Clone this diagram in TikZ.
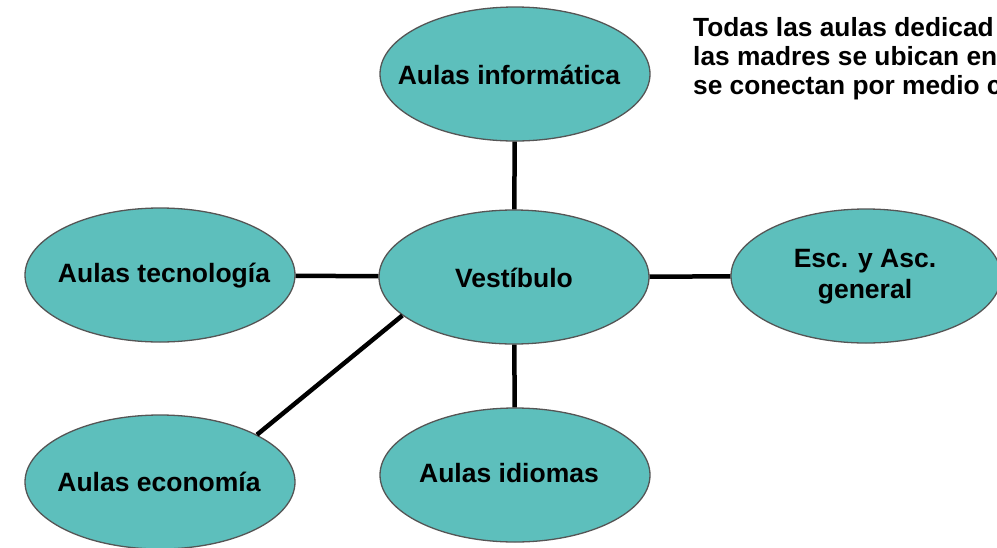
\documentclass[tikz,border=0pt]{standalone}
\usepackage{fontspec}
\setmainfont{Liberation Sans}
\usetikzlibrary{shapes.geometric}
\definecolor{tealfill}{HTML}{5DBFBC}
\definecolor{rimgray}{HTML}{555555}
\tikzset{
  room/.style={ellipse, draw=rimgray, line width=1.3pt, fill=tealfill,
    minimum width=270pt, minimum height=134pt, inner sep=0pt},
  roomtext/.style={inner sep=0pt, align=center,
    font=\fontsize{26.5}{31}\selectfont\bfseries},
  link/.style={line width=4.5pt, black},
  note/.style={anchor=base west, inner sep=0pt, font=\fontsize{26.3}{29}\selectfont\bfseries}
}
\begin{document}
\begin{tikzpicture}[x=1pt,y=-1pt]
\useasboundingbox (0,0) rectangle (997,547);
\clip (0,0) rectangle (997,547);
\node[room] (inf) at (515,74) {};
\node[room] (ves) at (514,277) {};
\node[room] (tec) at (160,275) {};
\node[room] (esc) at (866,276) {};
\node[room] (eco) at (160,482) {};
\node[room] (idi) at (515,475) {};
\node[roomtext] (infT) at (509,75) {Aulas informática};
\node[roomtext] (vesT) at (514,278) {Vestíbulo};
\node[roomtext] (tecT) at (164,276) {Aulas tecnología};
\node[roomtext] (escT) at (865,277) {Esc. y Asc.\\general};
\node[roomtext] (ecoT) at (159,482) {Aulas economía};
\node[roomtext] (idiT) at (509,473) {Aulas idiomas};
\draw[link] (inf) -- (ves);
\draw[link] (tec) -- (ves);
\draw[link] (esc) -- (ves);
\draw[link] (idi) -- (ves);
\draw[link] (ves.199) -- (eco.26);
\node[note] (t1) at (693,36) {Todas las aulas dedicad};
\node[note] (t2) at (693,65) {las madres se ubican en};
\node[note] (t3) at (693,94) {se conectan por medio c};
\end{tikzpicture}
\end{document}
